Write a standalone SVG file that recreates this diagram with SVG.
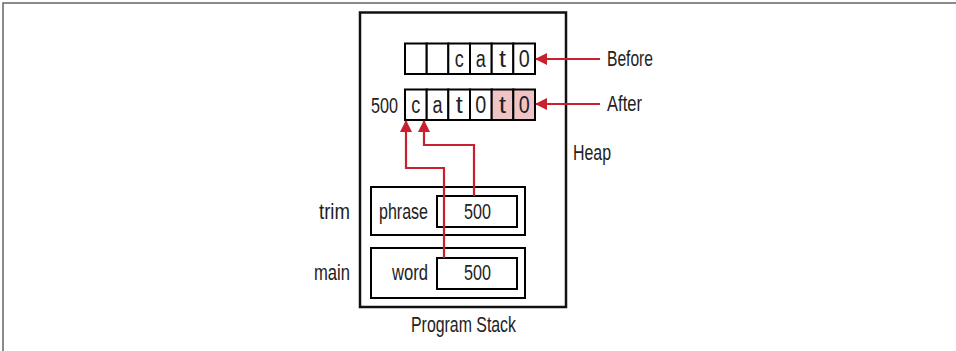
<svg xmlns="http://www.w3.org/2000/svg" width="956" height="351" viewBox="0 0 956 351">
<defs>
<marker id="ah" viewBox="0 0 12 12" refX="11" refY="6" markerWidth="12" markerHeight="12" markerUnits="userSpaceOnUse" orient="auto">
<path d="M0,0 L12,6 L0,12 Z" fill="#c8202e"/>
</marker>
<style>
.box{fill:#fff;stroke:#000;stroke-width:2}
.frame{fill:none;stroke:#111;stroke-width:2.5}
.cell{fill:#fff;stroke:#000;stroke-width:2}
.pink{fill:#f0c4c4;stroke:#000;stroke-width:2}
.t{font-family:"Liberation Sans",Arial,sans-serif;font-size:22px;fill:#222}
.g{font-size:23px}
.c{text-anchor:middle}
.red{fill:none;stroke:#c8202e;stroke-width:2.2}
</style>
</defs>
<rect width="956" height="351" fill="#fff"/>
<path d="M3,351 V3 H956" fill="none" stroke="#666" stroke-width="1.5"/>

<g id="program-stack">
<rect class="frame" x="360" y="12.5" width="206" height="294.5"/>
<text class="t" x="411" y="332" textLength="105" lengthAdjust="spacingAndGlyphs">Program Stack</text>
</g>

<g id="heap-label">
<text class="t" x="573" y="160" textLength="38" lengthAdjust="spacingAndGlyphs">Heap</text>
</g>

<g id="before-array">
<rect class="cell" x="405" y="43.5" width="21.7" height="30.5"/>
<rect class="cell" x="426.7" y="43.5" width="21.7" height="30.5"/>
<rect class="cell" x="448.3" y="43.5" width="21.7" height="30.5"/>
<rect class="cell" x="470" y="43.5" width="21.7" height="30.5"/>
<rect class="cell" x="491.7" y="43.5" width="21.7" height="30.5"/>
<rect class="cell" x="513.3" y="43.5" width="21.7" height="30.5"/>
<text class="t g c" x="459.2" y="67" textLength="9" lengthAdjust="spacingAndGlyphs">c</text>
<text class="t g c" x="480.8" y="67" textLength="10" lengthAdjust="spacingAndGlyphs">a</text>
<text class="t g c" x="502.5" y="67" textLength="7" lengthAdjust="spacingAndGlyphs">t</text>
<text class="t g c" x="524.2" y="67" textLength="11" lengthAdjust="spacingAndGlyphs">0</text>
</g>

<g id="after-array">
<text class="t" x="371" y="113" textLength="27" lengthAdjust="spacingAndGlyphs">500</text>
<rect class="cell" x="405" y="89.5" width="21.7" height="30.5"/>
<rect class="cell" x="426.7" y="89.5" width="21.7" height="30.5"/>
<rect class="cell" x="448.3" y="89.5" width="21.7" height="30.5"/>
<rect class="cell" x="470" y="89.5" width="21.7" height="30.5"/>
<rect class="pink" x="491.7" y="89.5" width="21.7" height="30.5"/>
<rect class="pink" x="513.3" y="89.5" width="21.7" height="30.5"/>
<text class="t g c" x="415.8" y="113" textLength="9" lengthAdjust="spacingAndGlyphs">c</text>
<text class="t g c" x="437.5" y="113" textLength="10" lengthAdjust="spacingAndGlyphs">a</text>
<text class="t g c" x="459.2" y="113" textLength="7" lengthAdjust="spacingAndGlyphs">t</text>
<text class="t g c" x="480.8" y="113" textLength="11" lengthAdjust="spacingAndGlyphs">0</text>
<text class="t g c" x="502.5" y="113" textLength="7" lengthAdjust="spacingAndGlyphs">t</text>
<text class="t g c" x="524.2" y="113" textLength="11" lengthAdjust="spacingAndGlyphs">0</text>
</g>

<g id="trim-frame">
<text class="t" x="319" y="219" textLength="31" lengthAdjust="spacingAndGlyphs">trim</text>
<rect class="box" x="371" y="187" width="154" height="48"/>
<text class="t" x="379" y="219" textLength="49" lengthAdjust="spacingAndGlyphs">phrase</text>
<rect class="box" x="437" y="196" width="80" height="31"/>
<text class="t" x="464" y="219" textLength="27" lengthAdjust="spacingAndGlyphs">500</text>
</g>

<g id="main-frame">
<text class="t" x="314" y="280" textLength="36" lengthAdjust="spacingAndGlyphs">main</text>
<rect class="box" x="371" y="248" width="154" height="50"/>
<text class="t" x="392" y="280" textLength="36" lengthAdjust="spacingAndGlyphs">word</text>
<rect class="box" x="437" y="258" width="80" height="31"/>
<text class="t" x="464" y="280" textLength="27" lengthAdjust="spacingAndGlyphs">500</text>
</g>

<g id="before-label">
<text class="t" x="607" y="66" textLength="46" lengthAdjust="spacingAndGlyphs">Before</text>
</g>
<g id="after-label">
<text class="t" x="607" y="111" textLength="35" lengthAdjust="spacingAndGlyphs">After</text>
</g>

<g id="connectors">
<path class="red" d="M600,59 H536" marker-end="url(#ah)"/>
<path class="red" d="M600,104 H536" marker-end="url(#ah)"/>
<path class="red" d="M444,258 V168 H406 V121" marker-end="url(#ah)"/>
<path class="red" d="M474,196 V145 H424 V121" marker-end="url(#ah)"/>
</g>
</svg>
